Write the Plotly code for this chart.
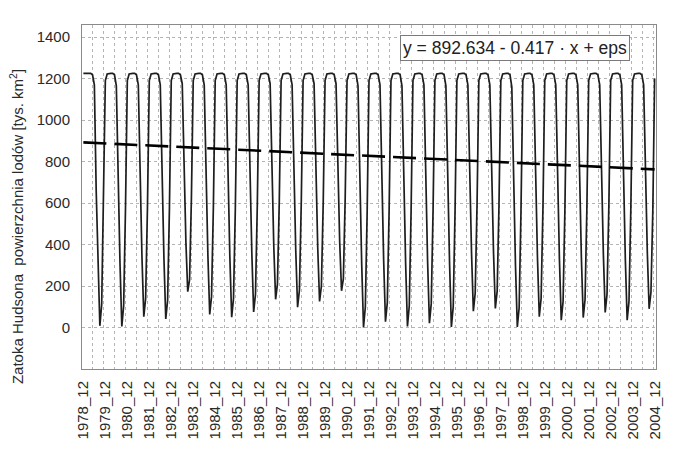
import plotly.graph_objects as go

# ---- data (monthly ice area, thousand km^2), Dec 1978 .. Dec 2004 ----
dec_1978 = [1225]
#           Jan   Feb   Mar   Apr   May   Jun  Jul  Aug  Sep  Oct  Nov  Dec
ice_1979 = [1225, 1225, 1225, 1225, 1218, 1170, 660, 320, 8, 110, 560, 1190]
ice_1980 = [1222, 1225, 1225, 1225, 1218, 1165, 650, 310, 5, 105, 570, 1190]
ice_1981 = [1222, 1225, 1225, 1225, 1218, 1170, 670, 340, 52, 140, 580, 1190]
ice_1982 = [1222, 1225, 1225, 1225, 1218, 1170, 670, 335, 41, 130, 575, 1190]
ice_1983 = [1222, 1225, 1225, 1225, 1218, 1175, 700, 410, 173, 230, 620, 1190]
ice_1984 = [1222, 1225, 1225, 1225, 1218, 1170, 670, 350, 63, 150, 580, 1190]
ice_1985 = [1222, 1225, 1225, 1225, 1218, 1170, 670, 340, 50, 140, 575, 1190]
ice_1986 = [1222, 1225, 1225, 1225, 1218, 1170, 680, 360, 75, 160, 590, 1190]
ice_1987 = [1222, 1225, 1225, 1225, 1218, 1175, 690, 390, 136, 210, 610, 1190]
ice_1988 = [1222, 1225, 1225, 1225, 1218, 1170, 680, 370, 98, 180, 600, 1190]
ice_1989 = [1222, 1225, 1225, 1225, 1218, 1175, 690, 385, 126, 200, 605, 1190]
ice_1990 = [1222, 1225, 1225, 1225, 1218, 1175, 700, 410, 177, 235, 625, 1190]
ice_1991 = [1222, 1225, 1225, 1225, 1218, 1165, 650, 310, 0, 100, 560, 1190]
ice_1992 = [1222, 1225, 1225, 1225, 1218, 1170, 660, 325, 28, 120, 570, 1190]
ice_1993 = [1222, 1225, 1225, 1225, 1218, 1165, 650, 310, 5, 105, 565, 1190]
ice_1994 = [1222, 1225, 1225, 1225, 1218, 1170, 660, 320, 21, 115, 570, 1190]
ice_1995 = [1222, 1225, 1225, 1225, 1218, 1165, 650, 310, 3, 100, 560, 1190]
ice_1996 = [1222, 1225, 1225, 1225, 1218, 1170, 680, 360, 79, 165, 590, 1190]
ice_1997 = [1222, 1225, 1225, 1225, 1218, 1170, 680, 365, 92, 175, 595, 1190]
ice_1998 = [1222, 1225, 1225, 1225, 1218, 1160, 630, 300, 3, 95, 555, 1190]
ice_1999 = [1222, 1225, 1225, 1225, 1218, 1170, 670, 340, 52, 140, 575, 1190]
ice_2000 = [1222, 1225, 1225, 1225, 1218, 1170, 665, 330, 35, 125, 570, 1190]
ice_2001 = [1222, 1225, 1225, 1225, 1218, 1170, 670, 335, 48, 135, 575, 1190]
ice_2002 = [1222, 1225, 1225, 1225, 1218, 1170, 680, 355, 73, 160, 585, 1190]
ice_2003 = [1222, 1225, 1225, 1225, 1218, 1170, 665, 330, 35, 125, 570, 1190]
ice_2004 = [1222, 1225, 1225, 1225, 1218, 1170, 680, 365, 90, 170, 560, 1200]

tick_labels = ["1978_12", "1979_12", "1980_12", "1981_12", "1982_12", "1983_12",
               "1984_12", "1985_12", "1986_12", "1987_12", "1988_12", "1989_12",
               "1990_12", "1991_12", "1992_12", "1993_12", "1994_12", "1995_12",
               "1996_12", "1997_12", "1998_12", "1999_12", "2000_12", "2001_12",
               "2002_12", "2003_12", "2004_12"]

trend_intercept = 892.634
trend_slope = -0.417
equation_text = "y = 892.634 - 0.417 \u00b7 x + eps"
y_title = "Zatoka Hudsona \u00a0powierzchnia lodów [tys. km<sup>2</sup>]"

# ---- assemble ----
years = [ice_1979, ice_1980, ice_1981, ice_1982, ice_1983, ice_1984, ice_1985,
         ice_1986, ice_1987, ice_1988, ice_1989, ice_1990, ice_1991, ice_1992,
         ice_1993, ice_1994, ice_1995, ice_1996, ice_1997, ice_1998, ice_1999,
         ice_2000, ice_2001, ice_2002, ice_2003, ice_2004]
values = list(dec_1978)
for row in years:
    values.extend(row)
idx = list(range(len(values)))
trend = [trend_intercept + trend_slope * (i + 1) for i in idx]

FONT = "Liberation Sans, Arial, sans-serif"
GRID = "#b4b4b4"

fig = go.Figure()
fig.add_trace(go.Scatter(x=idx, y=values, mode="lines",
                         line=dict(color="#1e1e1e", width=1.7), hoverinfo="skip"))
fig.add_trace(go.Scatter(x=idx, y=trend, mode="lines",
                         line=dict(color="black", width=2.6, dash="23px,8px"),
                         hoverinfo="skip"))

x0, x1 = -0.75, len(values) - 1 + 0.75
fig.update_layout(
    width=674, height=451,
    margin=dict(l=82, r=13, t=25, b=76),
    paper_bgcolor="white", plot_bgcolor="white",
    showlegend=False,
    font=dict(family=FONT, color="#222"),
    xaxis=dict(
        range=[x0, x1],
        tickmode="array", tickvals=[12 * k for k in range(len(tick_labels))],
        ticktext=tick_labels, tickangle=-90,
        tickfont=dict(size=15, color="#2a2a2a"),
        showgrid=False, zeroline=False,
        showline=True, linecolor="#8a8a8a", linewidth=1, mirror=True,
        ticks="", ticklabelstandoff=5,
        minor=dict(tickmode="array",
                   tickvals=[x0 + 6 * k for k in range(1, 53)],
                   showgrid=True, gridcolor=GRID, griddash="dot", gridwidth=1,
                   ticks=""),
    ),
    yaxis=dict(
        range=[-200, 1458],
        tickmode="array", tickvals=[0, 200, 400, 600, 800, 1000, 1200, 1400],
        tickfont=dict(size=15, color="#2a2a2a"),
        showgrid=True, gridcolor=GRID, griddash="dot", gridwidth=1,
        zeroline=False,
        showline=True, linecolor="#8a8a8a", linewidth=1, mirror=True,
        ticks="", ticklabelstandoff=8,
    ),
    annotations=[
        dict(text=equation_text, xref="paper", yref="paper",
             x=(518.5 - 82) / 579, y=1 - (48 - 25) / 350,
             xanchor="center", yanchor="middle",
             showarrow=False, font=dict(size=17.5, color="#222", family=FONT),
             bgcolor="white", bordercolor="#7a7a7a", borderwidth=1, borderpad=2),
        dict(text=y_title, xref="paper", yref="paper",
             x=(16 - 82) / 579, y=1 - (230 - 25) / 350,
             xanchor="center", yanchor="middle", textangle=-90,
             showarrow=False, font=dict(size=15, color="#2a2a2a", family=FONT)),
    ],
)

fig.write_html("out.html")
